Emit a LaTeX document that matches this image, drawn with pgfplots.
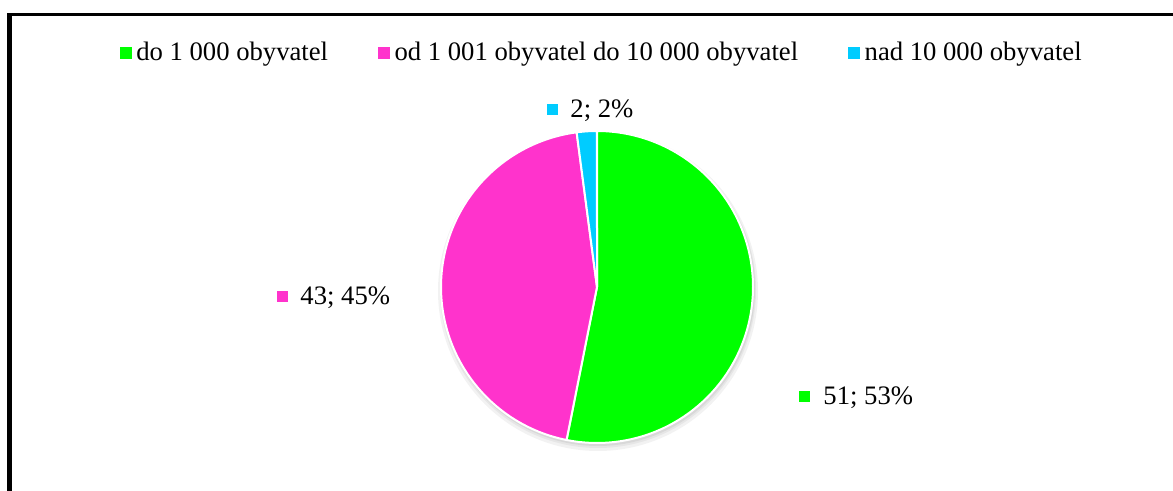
\documentclass[12pt,border=0pt]{standalone}
\usepackage{pgfplots}
\pgfplotsset{compat=1.18}
\usepackage{pgfplotstable}
\usepackage{fontspec}
\setmainfont{Liberation Serif}

\definecolor{pgreen}{RGB}{0,255,0}
\definecolor{pmagenta}{RGB}{255,51,204}
\definecolor{pcyan}{RGB}{0,204,255}

% one picture pixel
\def\pxu{0.45pt}

\pgfplotstableread[col sep=comma]{
name,value
do 1 000 obyvatel,51
od 1 001 obyvatel do 10 000 obyvatel,43
nad 10 000 obyvatel,2
}\pietable

\begin{document}
\begin{tikzpicture}
\pgfplotstablegetelem{0}{value}\of\pietable \let\va\pgfplotsretval
\pgfplotstablegetelem{1}{value}\of\pietable \let\vb\pgfplotsretval
\pgfplotstablegetelem{2}{value}\of\pietable \let\vc\pgfplotsretval
\pgfmathsetmacro\tot{\va+\vb+\vc}
\pgfmathsetmacro\aA{90}
\pgfmathsetmacro\aB{90-360*(\va/\tot)}
\pgfmathsetmacro\aC{\aB-360*(\vb/\tot)}
\pgfmathsetmacro\aD{\aC-360*(\vc/\tot)}
\pgfmathtruncatemacro\pa{round(100*(\va/\tot))}
\pgfmathtruncatemacro\pb{round(100*(\vb/\tot))}
\pgfmathtruncatemacro\pc{round(100*(\vc/\tot))}
\begin{axis}[
  x=\pxu, y=\pxu,
  xmin=0, xmax=1173, ymin=0, ymax=491,
  hide axis, clip=false,
  legend columns=-1,
  legend style={at={(axis cs:603,438)}, anchor=center, draw=none, fill=none,
    /tikz/every even column/.append style={column sep=20.5pt},
    nodes={inner xsep=2pt, inner ysep=1pt}},
  legend image code/.code={\path[#1,draw=none] (0pt,-2.6pt) rectangle (5.4pt,2.6pt);},
]
% soft shadow under the pie
\fill[black,opacity=0.05] (axis cs:598,200) circle[radius=160*\pxu];
\fill[black,opacity=0.05] (axis cs:598,201) circle[radius=158*\pxu];
\fill[black,opacity=0.06] (axis cs:598,202) circle[radius=157*\pxu];

\addplot[fill=pgreen, draw=white, line width=0.9pt, domain=\aB:\aA, samples=120, variable=\t]
  ({597+156*cos(\t)},{204+156*sin(\t)}) -- (axis cs:597,204) -- cycle;
\addlegendentry{do 1 000 obyvatel}
\addplot[fill=pmagenta, draw=white, line width=0.9pt, domain=\aC:\aB, samples=120, variable=\t]
  ({597+156*cos(\t)},{204+156*sin(\t)}) -- (axis cs:597,204) -- cycle;
\addlegendentry{od 1 001 obyvatel do 10 000 obyvatel}
\addplot[fill=pcyan, draw=white, line width=0.9pt, domain=\aD:\aC, samples=20, variable=\t]
  ({597+156*cos(\t)},{204+156*sin(\t)}) -- (axis cs:597,204) -- cycle;
\addlegendentry{nad 10 000 obyvatel}

% data labels
\fill[pgreen] (axis cs:798.5,89) rectangle (axis cs:809.5,100);
\node[anchor=base west, inner sep=0pt] at (axis cs:823,86) {\va; \pa\%};
\fill[pmagenta] (axis cs:276.5,188.5) rectangle (axis cs:287.5,199.5);
\node[anchor=base west, inner sep=0pt] at (axis cs:300,186) {\vb; \pb\%};
\fill[pcyan] (axis cs:546.5,376) rectangle (axis cs:557.5,387);
\node[anchor=base west, inner sep=0pt] at (axis cs:570,373.7) {\vc; \pc\%};

% chart frame (cut at right and bottom)
\draw[line width=4.7*\pxu] (axis cs:9.7,0) -- (axis cs:9.7,477.7);
\draw[line width=3*\pxu] (axis cs:7.35,476.2) -- (axis cs:1173,476.2);

\coordinate (bl) at (axis cs:0,0);
\coordinate (tr) at (axis cs:1173,491);
\end{axis}
\pgfresetboundingbox
\useasboundingbox (bl) rectangle (tr);
\end{tikzpicture}
\end{document}
